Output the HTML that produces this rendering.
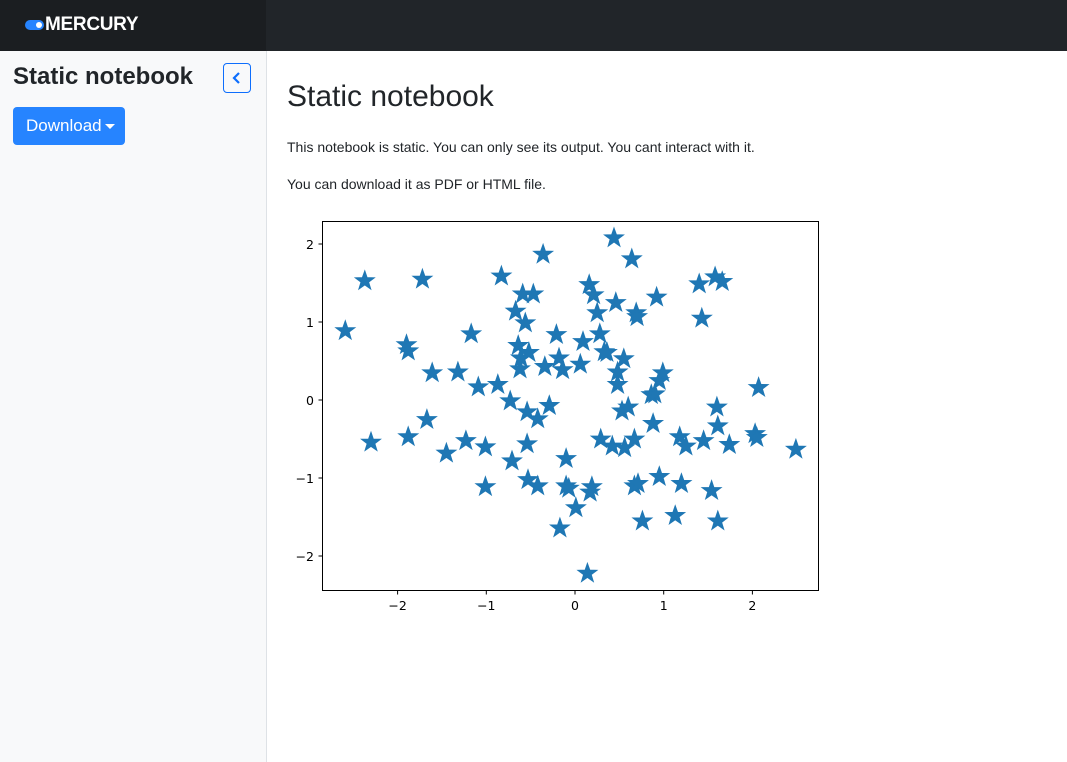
<!DOCTYPE html>
<html><head><meta charset="utf-8"><style>
*{box-sizing:border-box;margin:0;padding:0}
body{width:1067px;height:762px;overflow:hidden;font-family:"Liberation Sans",sans-serif;background:#fff;position:relative;color:#212529}
.nav{position:absolute;left:0;top:0;width:1067px;height:51px;background:#212529}
.navleft{position:absolute;left:0;top:0;width:266px;height:51px;background:#1b1e21}
.logo{position:absolute;left:45px;top:14px;color:#fff;font-weight:bold;font-size:19px;font-family:"Liberation Sans",sans-serif;letter-spacing:-0.3px}
.pill{position:absolute;left:25px;top:20px;width:19px;height:10px;border-radius:5px;background:#2684ff}
.pill:after{content:"";position:absolute;right:2px;top:2px;width:6px;height:6px;border-radius:3px;background:#fff}
.side{position:absolute;left:0;top:51px;width:267px;height:711px;background:#f8f9fa;border-right:1px solid #dee2e6}
.stitle{position:absolute;left:13px;top:12px;font-size:24px;font-weight:bold;font-family:"Liberation Sans",sans-serif}
.coll{position:absolute;left:223px;top:12px;width:28px;height:30px;border:1px solid #0d6efd;border-radius:4px}
.coll svg{position:absolute;left:8px;top:8px}
.dl{position:absolute;left:13px;top:56px;width:112px;height:38px;background:#2684ff;border-radius:4px;color:#fff;font-size:17px;line-height:38px;padding-left:13px;font-family:"Liberation Sans",sans-serif}
.caret{position:absolute;left:92px;top:17px;width:0;height:0;border-left:5px solid transparent;border-right:5px solid transparent;border-top:5px solid #fff}
h1{position:absolute;left:287px;top:80px;font-size:30px;font-weight:400}
p{position:absolute;left:287px;font-size:14px}
#chart{position:absolute;left:0;top:0}
</style></head><body>
<div class="nav"><div class="navleft"></div>
<div class="pill"></div>
<div class="logo">MERCURY</div></div>
<div class="side">
<div class="stitle">Static notebook</div>
<div class="coll"><svg width="10" height="12"><path d="M7 1 L2 6 L7 11" fill="none" stroke="#0d6efd" stroke-width="2.2"/></svg></div>
<div class="dl">Download<span class="caret"></span></div>
</div>
<h1>Static notebook</h1>
<p style="top:139px">This notebook is static. You can only see its output. You cant interact with it.</p>
<p style="top:176px">You can download it as PDF or HTML file.</p>
<svg id="chart" width="1067" height="762"></svg>
<script>
const xs=[-2.59,-2.37,-1.72,-2.30,-1.90,-1.88,-1.88,-1.67,-1.61,-1.45,-1.32,-1.23,-1.17,-1.09,-1.01,-1.01,-0.87,-0.83,-0.73,-0.71,-0.67,-0.64,-0.62,-0.61,-0.59,-0.56,-0.54,-0.54,-0.53,-0.52,-0.47,-0.42,-0.42,-0.36,-0.34,-0.29,-0.21,-0.18,-0.17,-0.14,-0.10,-0.10,-0.07,0.01,0.06,0.09,0.16,0.17,0.19,0.21,0.25,0.28,0.29,0.33,0.36,0.42,0.44,0.46,0.48,0.48,0.53,0.55,0.56,0.60,0.64,0.67,0.67,0.69,0.70,0.71,0.76,0.86,0.88,0.90,0.92,0.95,0.99,0.95,1.13,1.18,1.20,1.25,1.40,1.43,1.45,1.54,1.58,1.60,1.61,1.61,1.66,1.74,2.03,2.05,2.07,2.49,0.14];
const ys=[0.90,1.54,1.56,-0.53,0.72,0.64,-0.46,-0.24,0.36,-0.67,0.37,-0.51,0.86,0.18,-0.59,-1.10,0.21,1.60,0.00,-0.77,1.15,0.71,0.41,0.55,1.37,1.00,-0.55,-0.14,-1.01,0.62,1.37,-0.23,-1.09,1.88,0.44,-0.06,0.85,0.55,-1.63,0.40,-0.74,-1.09,-1.12,-1.37,0.47,0.76,1.49,-1.17,-1.10,1.36,1.13,0.86,-0.49,0.63,0.62,-0.58,2.09,1.26,0.37,0.21,-0.13,0.54,-0.60,-0.08,1.82,-0.49,-1.09,1.13,1.08,-1.06,-1.54,0.08,-0.29,0.09,1.33,0.26,0.36,-0.97,-1.47,-0.46,-1.06,-0.58,1.50,1.06,-0.51,-1.15,1.59,-0.08,-1.54,-0.32,1.53,-0.56,-0.42,-0.47,0.17,-0.62,-2.21];
const xTicks=[-2,-1,0,1,2];
const yTicks=[-2,-1,0,1,2];
const xTickLabels=["\u22122","\u22121","0","1","2"];
const yTickLabels=["\u22122","\u22121","0","1","2"];
const X=v=>575+v*88.7, Y=v=>400-v*78;
const svg=document.getElementById('chart'),NS="http://www.w3.org/2000/svg";
function mk(t,a){const e=document.createElementNS(NS,t);for(const k in a)e.setAttribute(k,a[k]);svg.appendChild(e);return e;}
const frame=mk('rect',{x:322.5,y:221.5,width:496,height:369,fill:'none',stroke:'#000','stroke-width':1});


xTicks.forEach((t,i)=>{const x=X(t);
const l=mk('line',{x1:x,x2:x,y1:590.5,y2:594.5,stroke:'#000'});


const tx=mk('text',{x:x,y:610,'text-anchor':'middle','font-size':12.5,'font-family':'DejaVu Sans, sans-serif',fill:'#000'});tx.textContent=xTickLabels[i];

});
yTicks.forEach((t,i)=>{const y=Y(t);
const l=mk('line',{x1:318.5,x2:322.5,y1:y,y2:y,stroke:'#000'});


const tx=mk('text',{x:314,y:y+5,'text-anchor':'end','font-size':12.5,'font-family':'DejaVu Sans, sans-serif',fill:'#000'});tx.textContent=yTickLabels[i];

});
function star(cx,cy,R){const r=R*0.4;let p=[];for(let i=0;i<10;i++){const a=-Math.PI/2+i*Math.PI/5,rr=i%2?r:R;p.push((cx+rr*Math.cos(a)).toFixed(1)+','+(cy+rr*Math.sin(a)).toFixed(1));}return p.join(' ');}
xs.forEach((v,i)=>{const s=mk('polygon',{points:star(X(v),Y(ys[i])+1,10),fill:'#1f77b4',stroke:'#1f77b4','stroke-width':1,'stroke-linejoin':'miter'});

});
</script>
</body></html>
